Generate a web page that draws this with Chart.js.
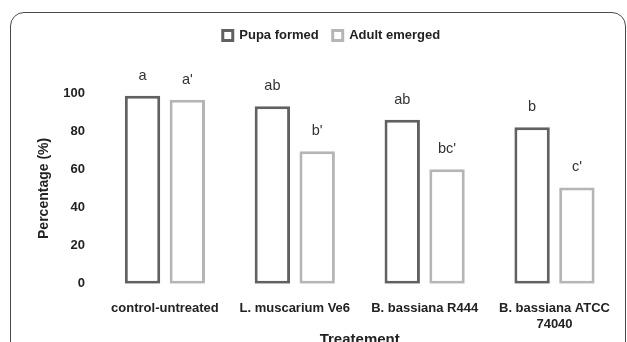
<!DOCTYPE html>
<html>
<head>
<meta charset="utf-8">
<script src="https://cdn.jsdelivr.net/npm/chart.js@4"></script>
<style>
  html, body { margin: 0; padding: 0; background: #fff; }
  body { width: 627px; height: 342px; overflow: hidden; position: relative; }
  #frame {
    position: absolute; left: 10px; top: 12px; width: 614px; height: 400px;
    border: 1.5px solid #4a4a4a; border-radius: 14px;
  }
  #chart { position: absolute; left: 0; top: 0; }
</style>
</head>
<body>
<div id="frame"></div>
<canvas id="chart" width="627" height="349"></canvas>
<script>
const treatments = ['control-untreated', 'L. muscarium Ve6', 'B. bassiana R444', ['B. bassiana ATCC', '74040']];
const pupaFormed = [98.5, 93, 86, 82];
const adultEmerged = [96.5, 69.5, 60, 50.5];
const pupaLetters = ['a', 'ab', 'ab', 'b'];
const adultLetters = ["a'", "b'", "bc'", "c'"];

const FONT = "'Liberation Sans', Arial, sans-serif";

const letterPlugin = {
    id: 'letters',
    afterDatasetsDraw(chart) {
        const ctx = chart.ctx;
        ctx.save();
        ctx.font = '14.5px ' + FONT;
        ctx.fillStyle = '#333';
        ctx.textAlign = 'center';
        ctx.textBaseline = 'middle';
        [pupaLetters, adultLetters].forEach(function(letters, i) {
            chart.getDatasetMeta(i).data.forEach(function(bar, j) {
                ctx.fillText(letters[j], bar.x, bar.y - 20);
            });
        });
        ctx.restore();
    }
};

// extra room between legend and plot for the letters
const legendSpace = {
    id: 'legendSpace',
    beforeInit(chart) {
        const fit = chart.legend.fit;
        chart.legend.fit = function() {
            fit.bind(chart.legend)();
            this.height += 41;
        };
    }
};

const ctx = document.getElementById('chart').getContext('2d');
new Chart(ctx, {
    type: 'bar',
    data: {
        labels: treatments,
        datasets: [
            {
                label: 'Pupa formed',
                data: pupaFormed,
                backgroundColor: '#ffffff',
                borderColor: '#616161',
                borderWidth: 3,
                borderSkipped: false
            },
            {
                label: 'Adult emerged',
                data: adultEmerged,
                backgroundColor: '#ffffff',
                borderColor: '#b5b5b5',
                borderWidth: 3,
                borderSkipped: false
            }
        ]
    },
    options: {
        responsive: false,
        animation: false,
        categoryPercentage: 0.69,
        barPercentage: 0.79,
        layout: { padding: { left: 36, right: 0, top: 15, bottom: 0 } },
        plugins: {
            legend: {
                position: 'top',
                labels: {
                    boxWidth: 10,
                    boxHeight: 10,
                    padding: 14,
                    color: '#222',
                    font: { family: FONT, size: 13, weight: 'bold' }
                }
            },
            tooltip: { enabled: false }
        },
        scales: {
            x: {
                grid: { display: false, drawTicks: false },
                border: { display: false },
                ticks: {
                    padding: 17,
                    color: '#222',
                    maxRotation: 0,
                    font: { family: FONT, size: 13, weight: 'bold' }
                },
                title: {
                    display: true,
                    text: 'Treatement',
                    color: '#222',
                    padding: { top: -18, bottom: 0 },
                    font: { family: FONT, size: 15, weight: 'bold' }
                }
            },
            y: {
                min: 0,
                max: 100,
                grid: { display: false, drawTicks: false },
                border: { display: false },
                ticks: {
                    stepSize: 20,
                    padding: 15,
                    color: '#222',
                    font: { family: FONT, size: 13, weight: 'bold' }
                },
                title: {
                    display: true,
                    text: 'Percentage (%)',
                    color: '#222',
                    padding: 0,
                    font: { family: FONT, size: 14, weight: 'bold' }
                },
                afterFit(scale) { scale.width = 64; }
            }
        }
    },
    plugins: [letterPlugin, legendSpace]
});
</script>
</body>
</html>
